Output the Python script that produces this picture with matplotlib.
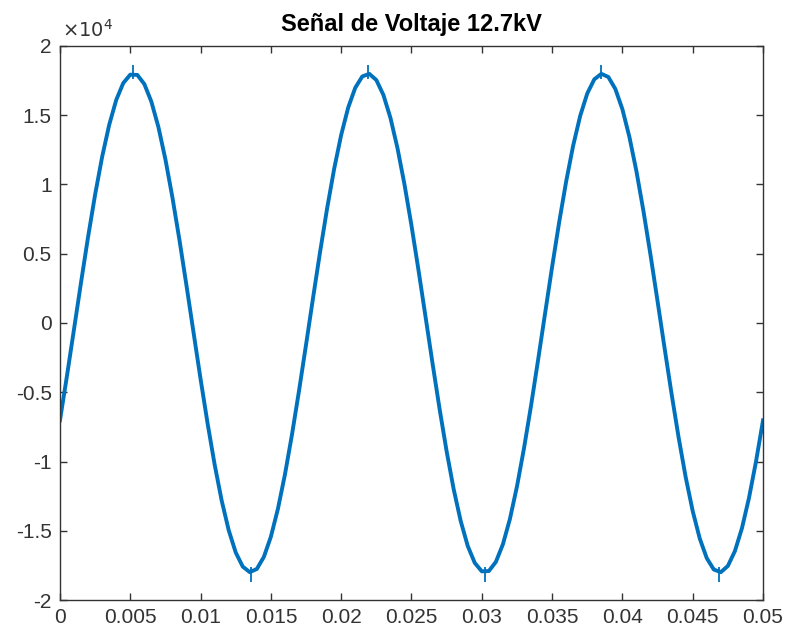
'''Señal de voltaje 12.7kV - recreated in matplotlib'''
import matplotlib
matplotlib.use('Agg')
import matplotlib.pyplot as plt
from matplotlib.ticker import FuncFormatter
import numpy as np

# time axis, one sample every 0.5 ms
t = np.arange(101) * 0.0005

# voltage (V)
v = [-7030, -3800, -440, 2940, 6220, 9270, 12000, 14300, 16100, 17320,
     17930, 17910, 17250, 15980, 14150, 11810, 9050, 5980, 2690, -690,
     -4050, -7260, -10220, -12820, -14960, -16570, -17590, -17990, -17760, -16890,
     -15430, -13420, -10940, -8060, -4900, -1570, 1820, 5140, 8280, 11130,
     13580, 15560, 16980, 17800, 17990, 17540, 16470, 14820, 12640, 10010,
     7030, 3800, 440, -2940, -6220, -9270, -12000, -14300, -16100, -17320,
     -17930, -17910, -17250, -15980, -14150, -11810, -9050, -5980, -2690, 690,
     4050, 7260, 10220, 12820, 14960, 16570, 17590, 17990, 17760, 16890,
     15430, 13420, 10940, 8060, 4900, 1570, -1820, -5140, -8280, -11130,
     -13580, -15560, -16980, -17800, -17990, -17540, -16470, -14820, -12640, -10010,
     -7030]

# noise spikes seen at the crests and troughs
spike_t = [0.0052, 0.0219, 0.0385, 0.0136, 0.0302, 0.0469]
spike_lo = [17600, 17600, 17600, -17600, -17600, -17600]
spike_hi = [18600, 18600, 18600, -18700, -18700, -18700]

xticks = np.arange(0, 0.0501, 0.005)
yticks = np.arange(-20000, 20001, 5000)

plt.rcParams['font.family'] = ['Liberation Sans', 'DejaVu Sans']

fig = plt.figure(figsize=(7.88, 6.35), dpi=100)
ax = fig.add_axes([0.0761, 0.0551, 0.8922, 0.8725])

ax.plot(t, v, color='#0072BD', linewidth=2.8, solid_joinstyle='round') #the signal
ax.vlines(spike_t, spike_lo, spike_hi, color='#0072BD', linewidth=1.3)

ax.set_xlim(0, 0.05)
ax.set_ylim(-20000, 20000)
ax.set_xticks(xticks)
ax.set_yticks(yticks)
ax.xaxis.set_major_formatter(FuncFormatter(lambda x, p: '%g' % round(x, 4)))
ax.yaxis.set_major_formatter(FuncFormatter(lambda y, p: '%g' % (y / 1e4)))

# matlab style box with ticks inside on every side
ax.tick_params(direction='in', length=5, width=1, top=True, right=True,
               labelsize=15, colors='#333333', pad=6)
for s in ax.spines.values():
    s.set_color('#333333')
    s.set_linewidth(1)

ax.text(0.003, 1.010, r'$\times 10^{4}$', transform=ax.transAxes,
        fontsize=14, color='#333333', ha='left', va='bottom')
ax.set_title('Señal de Voltaje 12.7kV', fontsize=17, fontweight='bold', pad=11)

fig.savefig('out.png', dpi=100)
